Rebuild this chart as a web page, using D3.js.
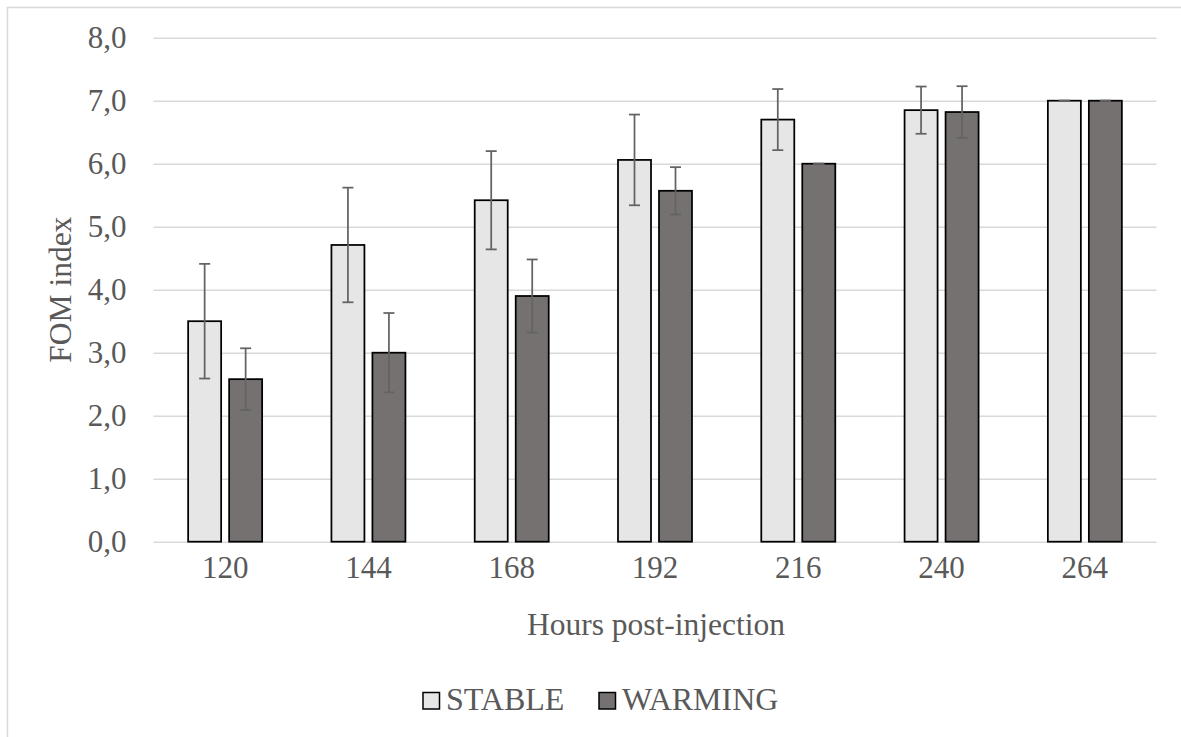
<!DOCTYPE html>
<html>
<head>
<meta charset="utf-8">
<script src="https://cdn.jsdelivr.net/npm/d3@7/dist/d3.min.js"></script>
<style>
  html, body { margin: 0; padding: 0; background: #ffffff; }
  svg { display: block; }
  text { font-family: "Liberation Serif", "Times New Roman", serif; fill: #595959; }
</style>
</head>
<body>
<svg id="chart" width="1181" height="737"></svg>
<script>
// FOM index by hours post-injection, two thermal regimes
const hours = ["120", "144", "168", "192", "216", "240", "264"];
const seriesNames = ["STABLE", "WARMING"];
const stableMean = [3.50, 4.71, 5.42, 6.06, 6.70, 6.85, 7.00];
const stableErr  = [0.91, 0.91, 0.78, 0.72, 0.485, 0.375, 0];
const warmingMean = [2.58, 3.00, 3.90, 5.57, 6.00, 6.82, 7.00];
const warmingErr  = [0.49, 0.63, 0.58, 0.375, 0, 0.41, 0];
const yTicks = [0, 1, 2, 3, 4, 5, 6, 7, 8];

const colors = { STABLE: "#e6e6e6", WARMING: "#767171" };

const svg = d3.select("#chart");

// outer chart frame (only its top and left edges fall inside the page)
svg.append("rect")
  .attr("x", 7.5).attr("y", 7.5)
  .attr("width", 1200).attr("height", 760)
  .attr("fill", "none")
  .attr("stroke", "#d9d9d9")
  .attr("stroke-width", 1.5);

const plot = { left: 153.5, right: 1156.5, top: 37.7, bottom: 541.7 };

const x0 = d3.scaleBand().domain(hours).range([plot.left, plot.right]).padding(0);
const barSpan = 74;
const x1 = d3.scaleBand().domain(seriesNames)
  .range([(x0.bandwidth() - barSpan) / 2, (x0.bandwidth() + barSpan) / 2])
  .paddingInner(0.195).paddingOuter(0);
const y = d3.scaleLinear().domain([0, 8]).range([plot.bottom, plot.top]);

const fmt = v => d3.format(".1f")(v).replace(".", ",");

// horizontal gridlines and y tick labels
const yAxis = d3.axisLeft(y).tickValues(yTicks).tickFormat(fmt)
  .tickSize(-(plot.right - plot.left)).tickPadding(27);
const gy = svg.append("g").attr("transform", `translate(${plot.left},0)`).call(yAxis);
gy.select(".domain").remove();
gy.selectAll(".tick line").attr("stroke", "#d9d9d9").attr("stroke-width", 1.5);
gy.selectAll(".tick text")
  .attr("font-size", 31)
  .attr("font-family", "Liberation Serif, Times New Roman, serif")
  .attr("fill", "#595959")
  .attr("dy", "0.33em");

// category labels
const xAxis = d3.axisBottom(x0).tickSize(0).tickPadding(14);
const gx = svg.append("g").attr("transform", `translate(0,${plot.bottom})`).call(xAxis);
gx.select(".domain").remove();
gx.selectAll(".tick text")
  .attr("font-size", 31)
  .attr("font-family", "Liberation Serif, Times New Roman, serif")
  .attr("fill", "#595959")
  .attr("dy", "0.71em");

// rows for bars
const rows = hours.map((h, i) => ({
  hour: h,
  values: [
    { key: "STABLE", mean: stableMean[i], err: stableErr[i] },
    { key: "WARMING", mean: warmingMean[i], err: warmingErr[i] }
  ]
}));

const groups = svg.append("g").selectAll("g")
  .data(rows).join("g")
  .attr("transform", d => `translate(${x0(d.hour)},0)`);

groups.selectAll("rect")
  .data(d => d.values).join("rect")
  .attr("x", d => x1(d.key))
  .attr("width", x1.bandwidth())
  .attr("y", d => y(d.mean))
  .attr("height", d => y(0) - y(d.mean))
  .attr("fill", d => colors[d.key])
  .attr("stroke", "#000")
  .attr("stroke-width", 1.75);

// error bars
const capW = 11;
const eb = groups.selectAll("g.err")
  .data(d => d.values).join("g").attr("class", "err")
  .attr("stroke", "#636363").attr("stroke-width", 1.75);
eb.append("line")
  .attr("x1", d => x1(d.key) + x1.bandwidth() / 2)
  .attr("x2", d => x1(d.key) + x1.bandwidth() / 2)
  .attr("y1", d => y(d.mean + d.err))
  .attr("y2", d => y(d.mean - d.err));
eb.append("line")
  .attr("x1", d => x1(d.key) + x1.bandwidth() / 2 - capW / 2)
  .attr("x2", d => x1(d.key) + x1.bandwidth() / 2 + capW / 2)
  .attr("y1", d => y(d.mean + d.err))
  .attr("y2", d => y(d.mean + d.err));
eb.append("line")
  .attr("x1", d => x1(d.key) + x1.bandwidth() / 2 - capW / 2)
  .attr("x2", d => x1(d.key) + x1.bandwidth() / 2 + capW / 2)
  .attr("y1", d => y(d.mean - d.err))
  .attr("y2", d => y(d.mean - d.err));

// axis titles
svg.append("text")
  .attr("x", (plot.left + plot.right) / 2 + 1)
  .attr("y", 634.5)
  .attr("text-anchor", "middle")
  .attr("font-size", 31.5)
  .text("Hours post-injection");

svg.append("text")
  .attr("transform", `translate(70.5,${(plot.top + plot.bottom) / 2}) rotate(-90)`)
  .attr("text-anchor", "middle")
  .attr("font-size", 31.5)
  .text("FOM index");

// legend
const legendItems = [
  { key: "STABLE", x: 422.5 },
  { key: "WARMING", x: 598.5 }
];
const lg = svg.append("g").selectAll("g").data(legendItems).join("g")
  .attr("transform", d => `translate(${d.x},0)`);
lg.append("rect")
  .attr("x", 0.5).attr("y", 692.5)
  .attr("width", 16.5).attr("height", 16.5)
  .attr("fill", d => colors[d.key])
  .attr("stroke", "#000").attr("stroke-width", 1.5);
lg.append("text")
  .attr("x", 23.5).attr("y", 710)
  .attr("font-size", 32)
  .text(d => d.key);
</script>
</body>
</html>
